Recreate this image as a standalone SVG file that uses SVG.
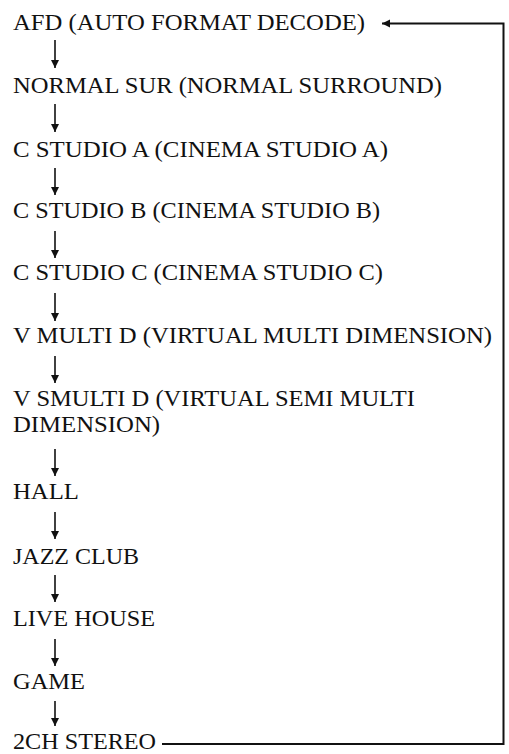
<svg xmlns="http://www.w3.org/2000/svg" width="509" height="754" viewBox="0 0 509 754">
<style>
text{font-family:'Liberation Serif','DejaVu Serif',serif;font-size:22.5px;fill:#111}
.a{stroke:#111;stroke-width:1.6;fill:none;marker-end:url(#ah)}
.loop{stroke:#111;stroke-width:2;fill:none}
</style>
<defs>
<marker id="ah" markerUnits="userSpaceOnUse" markerWidth="10" markerHeight="10" refX="8" refY="4" orient="auto">
<path d="M0,0 L8,4 L0,8 Z" fill="#111"/>
</marker>
</defs>
<rect width="509" height="754" fill="#fff"/>
<g id="n1"><text x="13" y="30" textLength="352" lengthAdjust="spacingAndGlyphs">AFD (AUTO FORMAT DECODE)</text></g>
<g id="n2"><text x="13" y="93" textLength="429" lengthAdjust="spacingAndGlyphs">NORMAL SUR (NORMAL SURROUND)</text></g>
<g id="n3"><text x="13" y="157" textLength="375" lengthAdjust="spacingAndGlyphs">C STUDIO A (CINEMA STUDIO A)</text></g>
<g id="n4"><text x="13" y="218" textLength="367" lengthAdjust="spacingAndGlyphs">C STUDIO B (CINEMA STUDIO B)</text></g>
<g id="n5"><text x="13" y="280" textLength="370" lengthAdjust="spacingAndGlyphs">C STUDIO C (CINEMA STUDIO C)</text></g>
<g id="n6"><text x="13" y="343" textLength="479" lengthAdjust="spacingAndGlyphs">V MULTI D (VIRTUAL MULTI DIMENSION)</text></g>
<g id="n7"><text x="13" y="406" textLength="402" lengthAdjust="spacingAndGlyphs">V SMULTI D (VIRTUAL SEMI MULTI</text><text x="13" y="432" textLength="147" lengthAdjust="spacingAndGlyphs">DIMENSION)</text></g>
<g id="n8"><text x="13" y="499" textLength="66" lengthAdjust="spacingAndGlyphs">HALL</text></g>
<g id="n9"><text x="13" y="564" textLength="126" lengthAdjust="spacingAndGlyphs">JAZZ CLUB</text></g>
<g id="n10"><text x="13" y="626" textLength="142" lengthAdjust="spacingAndGlyphs">LIVE HOUSE</text></g>
<g id="n11"><text x="13" y="689" textLength="72" lengthAdjust="spacingAndGlyphs">GAME</text></g>
<g id="n12"><text x="13" y="749" textLength="143" lengthAdjust="spacingAndGlyphs">2CH STEREO</text></g>
<g id="connectors">
<line class="a" x1="55" y1="40" x2="55" y2="68"/>
<line class="a" x1="55" y1="104" x2="55" y2="132"/>
<line class="a" x1="55" y1="168" x2="55" y2="195"/>
<line class="a" x1="55" y1="231" x2="55" y2="258"/>
<line class="a" x1="55" y1="293" x2="55" y2="321"/>
<line class="a" x1="55" y1="356" x2="55" y2="383"/>
<line class="a" x1="55" y1="449" x2="55" y2="476"/>
<line class="a" x1="55" y1="512" x2="55" y2="539"/>
<line class="a" x1="55" y1="575" x2="55" y2="602"/>
<line class="a" x1="55" y1="639" x2="55" y2="666"/>
<line class="a" x1="55" y1="701" x2="55" y2="726"/>
<path class="loop" d="M162,744 H503.5 V23.5 H382" marker-end="url(#ah)"/>
</g>
</svg>
